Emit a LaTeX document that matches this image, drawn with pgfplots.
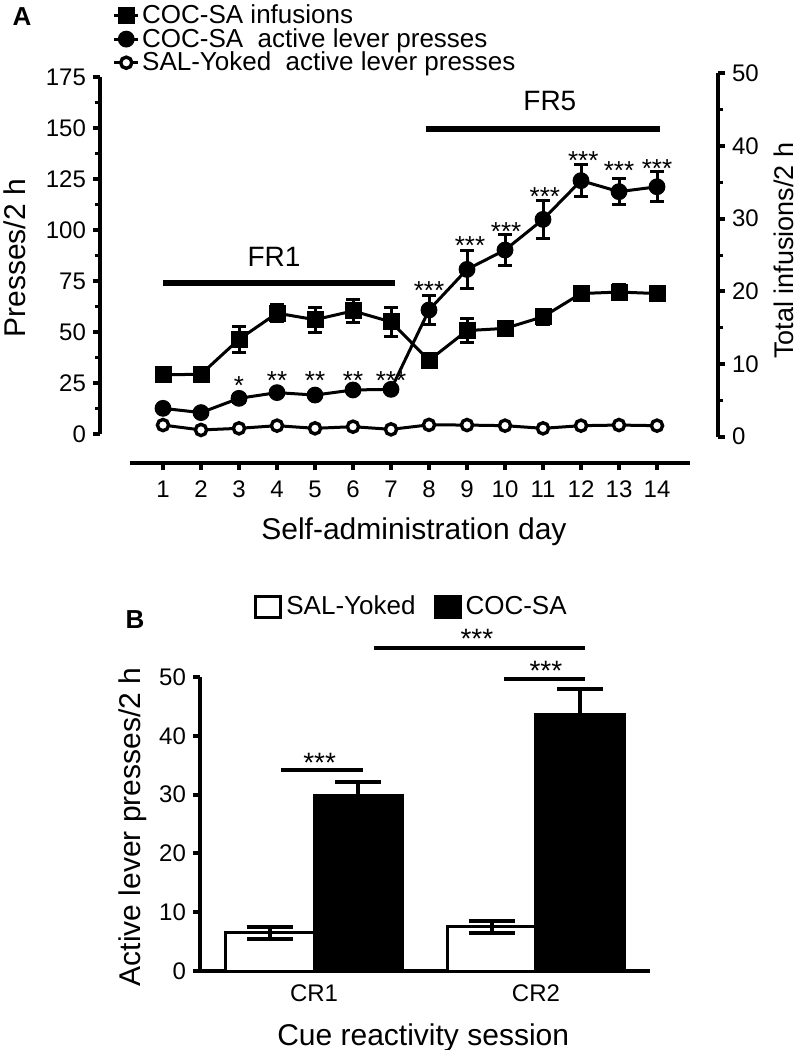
\documentclass[border=0pt]{standalone}
\usepackage{fontspec}
\setmainfont{Liberation Sans}
\usepackage{pgfplots}
\pgfplotsset{compat=1.18}
\pgfplotsset{
  every axis/.append style={
    scale only axis,
    /pgf/number format/assume math mode=true,
    tick label style={font=\fontsize{12}{13}\selectfont},
    label style={font=\fontsize{15}{18}\selectfont},
    tick align=outside,
    major tick length=3.5pt,
    minor tick length=2.5pt,
    major tick style={black, line width=2pt},
    minor tick style={black, line width=1.5pt},
    clip=false,
  },
}
\begin{document}
\begin{tikzpicture}
\useasboundingbox (0pt,0pt) rectangle (400.5pt,-525pt);

% ---------- panel A, presses ----------
\begin{axis}[
  at={(50pt,-231.5pt)}, anchor=south west,
  width=309pt, height=193pt,
  xmin=-0.658, xmax=15.605, ymin=-14.2, ymax=175,
  axis lines*=left, axis line style={draw=none},
  xtick={1,...,14}, ytick={0,25,...,175},
  minor y tick num=1,
  xticklabel style={yshift=-2pt},
  xlabel={Self-administration day},
  ylabel={Presses/2 h},
  xlabel style={at={(axis description cs:0.508,-0.179)}, anchor=center},
  ylabel style={at={(axis description cs:-0.138,0.53)}, anchor=center},
  legend style={draw=none, fill=none, at={(axis description cs:0.02,1.195)}, anchor=north west,
    font=\fontsize{13}{13}\selectfont, inner sep=0pt, row sep=-1.5pt,
    nodes={inner sep=1.2pt}},
  legend cell align=left,
  legend image code/.code={\draw[mark repeat=2,mark phase=2,#1] plot coordinates {(0pt,0pt) (6pt,0pt) (12pt,0pt)};},
]
\addlegendimage{black, line width=1.5pt, mark=square*, mark size=3.75pt, mark options={solid, fill=black, line width=1pt}}
\addlegendentry{COC-SA infusions}

% COC-SA active lever presses
\addplot[black, line width=1.5pt, mark=*, mark size=3.7pt,
  mark options={solid, fill=black, line width=1pt},
  error bars/.cd, y dir=both, y explicit,
  error bar style={line width=1.5pt},
  error mark options={rotate=90, mark size=3.5pt, line width=1.5pt}]
coordinates {
  (1,12.6) +- (0,1.0)
  (2,10.5) +- (0,1.0)
  (3,17.5) +- (0,2.0)
  (4,20.3) +- (0,1.5)
  (5,19.1) +- (0,1.5)
  (6,21.6) +- (0,1.5)
  (7,21.9) +- (0,1.5)
  (8,60.8) +- (0,7.0)
  (9,80.7) +- (0,9.4)
  (10,90.2) +- (0,7.4)
  (11,105.2) +- (0,9.2)
  (12,124.2) +- (0,7.8)
  (13,118.8) +- (0,6.5)
  (14,121.2) +- (0,7.4)
};
\addlegendentry{COC-SA\ \ active lever presses}

% SAL-Yoked active lever presses
\addplot[black, line width=1.5pt, mark=*, mark size=2.8pt,
  mark options={solid, fill=white, line width=1.7pt}]
coordinates {
  (1,4.4) (2,2.0) (3,2.8) (4,4.1) (5,2.8) (6,3.6) (7,2.3)
  (8,4.5) (9,4.4) (10,4.1) (11,2.8) (12,4.1) (13,4.4) (14,4.1)
};
\addlegendentry{SAL-Yoked\ \ active lever presses}

% axis lines
\draw[line width=2pt] (axis cs:-0.658,0) -- (axis cs:-0.658,175);
\draw[line width=2pt] (axis cs:0.132,-14.2) -- (axis cs:14.87,-14.2);

% schedule bars
\draw[line width=3pt] (axis cs:1.0,74.2) -- (axis cs:7.1,74.2);
\node[font=\fontsize{14}{14}\selectfont] at (axis cs:3.92,86.9) {FR1};
\draw[line width=3pt] (axis cs:7.92,149.4) -- (axis cs:14.08,149.4);
\node[font=\fontsize{14}{14}\selectfont] at (axis cs:11.18,163) {FR5};

% significance
\begin{scope}[every node/.style={font=\fontsize{13}{13}\selectfont, inner sep=0pt}]
\node at (axis cs:3,23.7) {*};
\node at (axis cs:4,26.1) {**};
\node at (axis cs:5,26.1) {**};
\node at (axis cs:6,26.1) {**};
\node at (axis cs:7,26.1) {***};
\node at (axis cs:8,70.2) {***};
\node at (axis cs:9.08,92.6) {***};
\node at (axis cs:10.03,99.2) {***};
\node at (axis cs:11.05,116.2) {***};
\node at (axis cs:12.06,134.2) {***};
\node at (axis cs:13,129.2) {***};
\node at (axis cs:14,129.9) {***};
\end{scope}
\end{axis}

% ---------- panel A, infusions (right axis) ----------
\begin{axis}[
  at={(50pt,-231.5pt)}, anchor=south west,
  width=309pt, height=194.85pt,
  xmin=-0.658, xmax=15.605, ymin=-3.62, ymax=50,
  axis x line=none, axis y line*=right, axis line style={draw=none},
  xtick=\empty, ytick={0,10,...,50},
  minor y tick num=1,
  ylabel={Total infusions/2 h},
  ylabel style={at={(axis description cs:1.106,0.545)}, anchor=center, font=\fontsize{13.5}{16}\selectfont},
]
\addplot[black, line width=1.5pt, mark=square*, mark size=3.75pt,
  mark options={solid, fill=black, line width=1pt},
  error bars/.cd, y dir=both, y explicit,
  error bar style={line width=1.5pt},
  error mark options={rotate=90, mark size=3.5pt, line width=1.5pt}]
coordinates {
  (1,8.5) +- (0,0.5)
  (2,8.6) +- (0,0.5)
  (3,13.4) +- (0,1.8)
  (4,17.0) +- (0,1.2)
  (5,16.1) +- (0,1.7)
  (6,17.3) +- (0,1.6)
  (7,15.8) +- (0,2.0)
  (8,10.5) +- (0,1.0)
  (9,14.6) +- (0,1.6)
  (10,14.9) +- (0,1.0)
  (11,16.5) +- (0,1.0)
  (12,19.7) +- (0,0.8)
  (13,19.9) +- (0,1.0)
  (14,19.7) +- (0,0.6)
};
\draw[line width=2pt] (axis cs:15.605,0) -- (axis cs:15.605,50);
\end{axis}

\node[font=\bfseries\fontsize{13}{13}\selectfont] at (11pt,-8.5pt) {A};
\node[font=\bfseries\fontsize{13}{13}\selectfont] at (67.5pt,-310pt) {B};

% ---------- panel B ----------
\begin{axis}[
  at={(100pt,-485.5pt)}, anchor=south west,
  width=225pt, height=147pt,
  xmin=0.486, xmax=2.514, ymin=0, ymax=50,
  axis x line*=bottom, axis y line*=left,
  axis line style={line width=2pt},
  ybar, bar width=0.4,
  xtick={1,2}, xticklabels={CR1,CR2},
  major x tick style={draw=none},
  ytick={0,10,...,50},
  xlabel={Cue reactivity session},
  ylabel={Active lever presses/2 h},
  xlabel style={at={(axis description cs:0.496,-0.226)}, anchor=center},
  ylabel style={at={(axis description cs:-0.15,0.49)}, anchor=center},
  legend style={draw=none, fill=none, at={(axis description cs:0.12,1.238)}, anchor=west,
    font=\fontsize{13}{13}\selectfont, inner sep=0pt, legend columns=2,
    nodes={inner sep=2pt},
    /tikz/every even column/.append style={column sep=7pt}},
  legend image code/.code={\draw[#1,/tikz/.cd,line width=1.5pt] (0pt,-5.2pt) rectangle (12.5pt,5.2pt);},
]
\addplot[fill=white, draw=black, line width=1.5pt, bar shift=-0.2,
  error bars/.cd, y dir=both, y explicit,
  error bar style={line width=2pt},
  error mark options={rotate=90, mark size=11.5pt, line width=2pt}]
coordinates {(1,6.5) +- (0,1.0) (2,7.5) +- (0,1.0)};
\addlegendentry{SAL-Yoked}
\addplot[fill=black, draw=black, line width=1.5pt, bar shift=0.2,
  error bars/.cd, y dir=plus, y explicit,
  error bar style={line width=2pt},
  error mark options={rotate=90, mark size=11.5pt, line width=2pt}]
coordinates {(1,29.8) +- (0,2.4) (2,43.7) +- (0,4.2)};
\addlegendentry{COC-SA}

\draw[line width=2pt] (axis cs:0.851,34.2) -- (axis cs:1.221,34.2);
\draw[line width=2pt] (axis cs:1.856,49.7) -- (axis cs:2.221,49.7);
\draw[line width=2pt] (axis cs:1.27,54.9) -- (axis cs:2.221,54.9);
\begin{scope}[every node/.style={font=\fontsize{14}{14}\selectfont, inner sep=0pt}]
\node at (axis cs:1.025,35.4) {***};
\node at (axis cs:2.045,51.0) {***};
\node at (axis cs:1.734,56.5) {***};
\end{scope}
\end{axis}
\end{tikzpicture}
\end{document}
